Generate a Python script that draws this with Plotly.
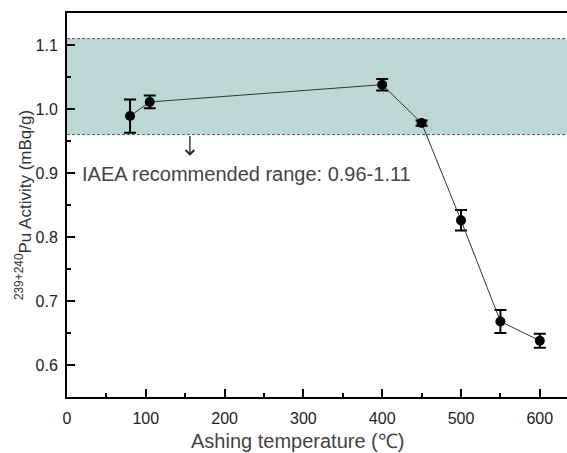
import plotly.graph_objects as go

# Ashing temperature (°C) and measured 239+240Pu activity (mBq/g)
temperature = [80, 105, 400, 450, 500, 550, 600]
activity = [0.989, 1.011, 1.038, 0.978, 0.826, 0.668, 0.638]
activity_err = [0.026, 0.010, 0.009, 0.004, 0.016, 0.018, 0.011]

# IAEA recommended range
range_low = 0.96
range_high = 1.11

x_ticks = [0, 100, 200, 300, 400, 500, 600]
y_ticks = [0.6, 0.7, 0.8, 0.9, 1.0, 1.1]
y_ticktext = ["0.6", "0.7", "0.8", "0.9", "1.0", "1.1"]

fig = go.Figure()

# recommended-range band with dashed borders
fig.add_shape(type="rect", xref="paper", yref="y", x0=0, x1=1,
              y0=range_low, y1=range_high,
              fillcolor="#bdd7d6", line_width=0, layer="below")
for yv in (range_low, range_high):
    fig.add_shape(type="line", xref="paper", yref="y", x0=0, x1=1,
                  y0=yv, y1=yv, line=dict(color="#555555", width=1, dash="3px,2px"))

fig.add_trace(go.Scatter(
    x=temperature, y=activity,
    mode="lines+markers",
    line=dict(color="#333333", width=1),
    marker=dict(color="black", size=10),
    error_y=dict(type="data", array=activity_err, visible=True,
                 color="black", thickness=2, width=6),
    showlegend=False,
))

fig.add_annotation(x=156, y=0.927, ax=156, ay=range_low, xref="x", yref="y",
                   axref="x", ayref="y", text="", showarrow=True,
                   arrowhead=4, arrowsize=1.3, arrowwidth=1.3, arrowcolor="#222222")
fig.add_annotation(x=17, y=0.899, xref="x", yref="y", xanchor="left",
                   yanchor="middle", text="IAEA recommended range: 0.96-1.11",
                   showarrow=False,
                   font=dict(family="Liberation Sans, Arial", size=20, color="#444444"))

# x-axis title
fig.add_annotation(x=0.461, y=-0.115, xref="paper", yref="paper",
                   xanchor="center", yanchor="middle",
                   text="Ashing temperature (℃)", showarrow=False,
                   font=dict(family="Liberation Sans, Arial", size=20, color="#444444"))

fig.update_layout(
    width=567, height=453,
    margin=dict(l=67, r=0, t=13, b=56),
    plot_bgcolor="white", paper_bgcolor="white",
    font=dict(family="Liberation Sans, Arial", color="#222222"),
)
fig.update_xaxes(
    range=[0, 634.5], tickmode="array", tickvals=x_ticks,
    ticks="inside", ticklen=8, tickwidth=2, tickcolor="black",
    minor=dict(dtick=50, tick0=0, ticks="inside", ticklen=4, tickwidth=2,
               tickcolor="black", showgrid=False),
    showline=True, linecolor="black", linewidth=2, mirror=True,
    showgrid=False, zeroline=False, ticklabelstandoff=6,
    tickfont=dict(size=16, color="#222222"),
)
fig.update_yaxes(
    range=[0.55, 1.15], tickmode="array", tickvals=y_ticks, ticktext=y_ticktext,
    ticks="inside", ticklen=8, tickwidth=2, tickcolor="black",
    minor=dict(dtick=0.05, tick0=0.55, ticks="inside", ticklen=4, tickwidth=2,
               tickcolor="black", showgrid=False),
    showline=True, linecolor="black", linewidth=2, mirror=False,
    showgrid=False, zeroline=False, ticklabelstandoff=4,
    tickfont=dict(size=16, color="#222222"),
    title=dict(text="<sup>239+240</sup>Pu Activity (mBq/g)", standoff=0,
               font=dict(size=17, color="#333333")),
)

fig.write_html("out.html")
